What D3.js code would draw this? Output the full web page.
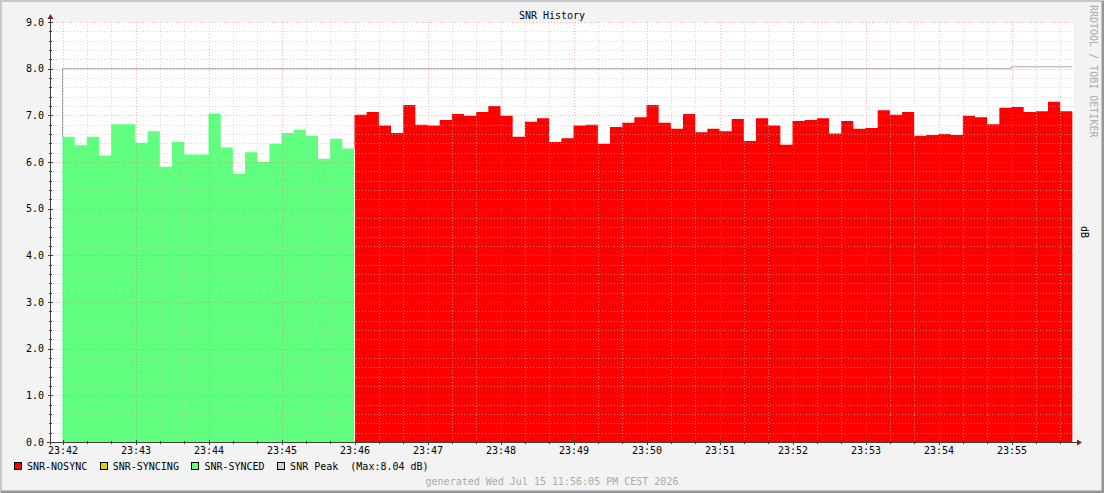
<!DOCTYPE html>
<html>
<head>
<meta charset="utf-8">
<script src="https://cdn.jsdelivr.net/npm/d3@7"></script>
<style>
  html, body { margin: 0; padding: 0; background: #fff; }
  svg { display: block; }
  text { font-family: "DejaVu Sans Mono", monospace; font-size: 10px; }
</style>
</head>
<body>
<svg id="chart" width="1104" height="493"></svg>
<script>
// 10 second samples starting at 23:42:00
const startTime = new Date(2026, 6, 15, 23, 42, 0);
const stepSeconds = 10;

const syncedValues = [6.54, 6.36, 6.54, 6.14, 6.81, 6.81, 6.41, 6.66, 5.90, 6.43, 6.16, 6.16,
  7.04, 6.31, 5.75, 6.21, 6.00, 6.39, 6.62, 6.69, 6.56, 6.07, 6.50, 6.29];

const nosyncValues = [7.01, 7.07, 6.78, 6.62, 7.22, 6.80, 6.78, 6.90, 7.03, 6.99, 7.07, 7.20,
  6.99, 6.54, 6.86, 6.94, 6.43, 6.51, 6.78, 6.80, 6.39, 6.75, 6.84, 6.96, 7.22, 6.84, 6.71,
  7.03, 6.64, 6.71, 6.66, 6.92, 6.45, 6.94, 6.78, 6.37, 6.88, 6.90, 6.94, 6.61, 6.88, 6.71,
  6.73, 7.11, 7.01, 7.07, 6.56, 6.58, 6.60, 6.58, 6.99, 6.96, 6.81, 7.16, 7.18, 7.07, 7.09,
  7.29, 7.09];

// peak line: value changes (HH:MM:SS, dB)
const peakTimes = ["23:42:00", "23:55:00"];
const peakValues = [8.00, 8.04];

const yMajorTicks = [0, 1, 2, 3, 4, 5, 6, 7, 8, 9];
const yMinorStep = 0.2;

const legendItems = [
  { name: 'SNR-NOSYNC', color: '#ff0000' },
  { name: 'SNR-SYNCING', color: '#e0d000' },
  { name: 'SNR-SYNCED', color: '#60ff80' },
  { name: 'SNR Peak', color: '#d0d0d0' }
];

const titleText = 'SNR History';
const yLabel = 'dB';
const watermark = 'RRDTOOL / TOBI OETIKER';
const footer = 'generated Wed Jul 15 11:56:05 PM CEST 2026';

// ---------------------------------------------------------------
const width = 1104, height = 493;
const plot = { left: 50, right: 1074, top: 22, bottom: 442 };
const pxPerSecond = 73 / 60;

const svg = d3.select('#chart');

const domainStart = new Date(+startTime - (62.5 - plot.left) / pxPerSecond * 1000);
const domainEnd = new Date(+domainStart + (plot.right - plot.left) / pxPerSecond * 1000);

const x = d3.scaleTime().domain([domainStart, domainEnd]).range([plot.left, plot.right]);
const y = d3.scaleLinear().domain([0, 9]).range([plot.bottom, plot.top]);

const timeAt = i => new Date(+startTime + i * stepSeconds * 1000);
const parseHMS = d3.timeParse('%Y-%m-%d %H:%M:%S');
const dayStr = d3.timeFormat('%Y-%m-%d')(startTime);

// step series with a closing point at the end of the last interval
function stepSeries(values, offset) {
  const pts = values.map((v, i) => ({ t: timeAt(offset + i), v }));
  pts.push({ t: timeAt(offset + values.length), v: values[values.length - 1] });
  return pts;
}
const syncedData = stepSeries(syncedValues, 0);
const nosyncData = stepSeries(nosyncValues, syncedValues.length);
const endTime = timeAt(syncedValues.length + nosyncValues.length);

// background and frame
svg.append('rect').attr('width', width).attr('height', height).attr('fill', '#f3f3f3');
svg.append('path').attr('d', `M0.5,${height}V0.5H${width}`).attr('fill', 'none')
  .attr('stroke', '#c8c8c8').attr('stroke-width', 3);
svg.append('path').attr('d', `M1,${height - 1}H${width - 1}V1`).attr('fill', 'none')
  .attr('stroke', '#969696').attr('stroke-width', 3);

// canvas
svg.append('rect')
  .attr('x', plot.left).attr('y', plot.top)
  .attr('width', plot.right - plot.left).attr('height', plot.bottom - plot.top)
  .attr('fill', '#ffffff');

// peak line (drawn under the areas)
const peakData = [{ t: startTime, v: syncedValues[0] }]
  .concat(peakTimes.map((s, i) => ({ t: parseHMS(dayStr + ' ' + s), v: peakValues[i] })));
peakData.push({ t: endTime, v: peakValues[peakValues.length - 1] });

svg.append('path')
  .datum(peakData)
  .attr('d', d3.line().x(d => x(d.t)).y(d => y(d.v)).curve(d3.curveStepAfter))
  .attr('fill', 'none')
  .attr('stroke', '#a8a8a8')
  .attr('stroke-width', 1);

// areas
const area = d3.area()
  .x(d => x(d.t))
  .y0(y(0))
  .y1(d => y(d.v))
  .curve(d3.curveStepAfter);

svg.append('path').datum(syncedData).attr('d', area).attr('fill', '#60ff80');
svg.append('path').datum(nosyncData).attr('d', area).attr('fill', '#ff0000');

// thin seam where the state changes
const seamX = x(nosyncData[0].t);
svg.append('line')
  .attr('x1', seamX).attr('x2', seamX)
  .attr('y1', y(0)).attr('y2', y(syncedValues[syncedValues.length - 1]))
  .attr('stroke', '#ffffff').attr('stroke-width', 0.8);

// grid (over the areas)
const grid = svg.append('g').attr('shape-rendering', 'crispEdges');
const crisp = v => Math.round(v) + 0.5;

const yMinor = d3.range(0, 9 + 1e-9, yMinorStep).filter(v => Math.abs(v - Math.round(v)) > 1e-6);
const xMinor = d3.timeSecond.every(20).range(domainStart, domainEnd).filter(d => d.getSeconds() !== 0);
const xMajor = d3.timeMinute.every(1).range(domainStart, domainEnd);

function hLines(vals, color) {
  grid.selectAll(null).data(vals).enter().append('line')
    .attr('x1', plot.left).attr('x2', plot.right)
    .attr('y1', d => crisp(y(d))).attr('y2', d => crisp(y(d)))
    .attr('stroke', color).attr('stroke-dasharray', '1,2');
}
function vLines(vals, color) {
  grid.selectAll(null).data(vals).enter().append('line')
    .attr('y1', plot.top).attr('y2', plot.bottom)
    .attr('x1', d => crisp(x(d))).attr('x2', d => crisp(x(d)))
    .attr('stroke', color).attr('stroke-dasharray', '1,2');
}
hLines(yMinor, 'rgba(192,192,192,0.6)');
vLines(xMinor, 'rgba(192,192,192,0.6)');
hLines(yMajorTicks, 'rgba(255,90,90,0.45)');
vLines(xMajor, 'rgba(255,90,90,0.45)');

// axes lines + ticks
const axisColor = '#404040';
const axes = svg.append('g').attr('shape-rendering', 'crispEdges');
axes.append('line')
  .attr('x1', plot.left - 3).attr('x2', plot.right + 4)
  .attr('y1', plot.bottom + 0.5).attr('y2', plot.bottom + 0.5)
  .attr('stroke', axisColor);
axes.append('line')
  .attr('x1', plot.left + 0.5).attr('x2', plot.left + 0.5)
  .attr('y1', plot.bottom + 3).attr('y2', plot.top - 4)
  .attr('stroke', axisColor);

axes.selectAll(null).data(yMinor).enter().append('line')
  .attr('x1', plot.left - 1).attr('x2', plot.left + 2)
  .attr('y1', d => crisp(y(d))).attr('y2', d => crisp(y(d))).attr('stroke', axisColor);
axes.selectAll(null).data(yMajorTicks).enter().append('line')
  .attr('x1', plot.left - 2).attr('x2', plot.left + 3)
  .attr('y1', d => crisp(y(d))).attr('y2', d => crisp(y(d))).attr('stroke', axisColor);
axes.selectAll(null).data(xMinor).enter().append('line')
  .attr('y1', plot.bottom - 1).attr('y2', plot.bottom + 2)
  .attr('x1', d => crisp(x(d))).attr('x2', d => crisp(x(d))).attr('stroke', axisColor);
axes.selectAll(null).data(xMajor).enter().append('line')
  .attr('y1', plot.bottom - 2).attr('y2', plot.bottom + 3)
  .attr('x1', d => crisp(x(d))).attr('x2', d => crisp(x(d))).attr('stroke', axisColor);

// arrows
const arrowColor = '#802020';
svg.append('path')
  .attr('d', `M${plot.right + 3},${plot.bottom - 2.5}L${plot.right + 8},${plot.bottom + 0.5}L${plot.right + 3},${plot.bottom + 3.5}Z`)
  .attr('fill', arrowColor);
svg.append('path')
  .attr('d', `M${plot.left - 2.5},${plot.top - 3}L${plot.left + 0.5},${plot.top - 8}L${plot.left + 3.5},${plot.top - 3}Z`)
  .attr('fill', arrowColor);

// tick labels via d3 axes
const yAxis = d3.axisLeft(y).tickValues(yMajorTicks).tickFormat(d3.format('.1f')).tickSize(0).tickPadding(6);
const yg = svg.append('g').attr('transform', `translate(${plot.left},0)`).call(yAxis);
yg.select('.domain').remove();
yg.selectAll('text').attr('font-family', '"DejaVu Sans Mono", monospace').attr('font-size', 10).attr('fill', '#000');

const xAxis = d3.axisBottom(x).tickValues(xMajor).tickFormat(d3.timeFormat('%H:%M')).tickSize(0).tickPadding(5);
const xg = svg.append('g').attr('transform', `translate(0,${plot.bottom})`).call(xAxis);
xg.select('.domain').remove();
xg.selectAll('text').attr('font-family', '"DejaVu Sans Mono", monospace').attr('font-size', 10).attr('fill', '#000');

// title, watermark, unit
svg.append('text').attr('x', width / 2).attr('y', 19).attr('text-anchor', 'middle').text(titleText);
svg.append('text')
  .attr('transform', 'translate(1089.5,5) rotate(90)')
  .attr('fill', '#aaaaaa')
  .text(watermark);
svg.append('text')
  .attr('transform', `translate(1080.5,${(plot.top + plot.bottom) / 2}) rotate(90)`)
  .attr('text-anchor', 'middle')
  .text(yLabel);

// legend
const legend = svg.append('g');
const charW = 6.02;
let lx = 14;
legendItems.forEach((item, i) => {
  legend.append('rect')
    .attr('x', lx + 0.5).attr('y', 462.5).attr('width', 7).attr('height', 7)
    .attr('fill', item.color).attr('stroke', '#000').attr('shape-rendering', 'crispEdges');
  let label = item.name;
  if (item.name === 'SNR Peak') label += `  (Max:${d3.max(peakValues).toFixed(2)} dB)`;
  legend.append('text').attr('x', lx + 13).attr('y', 470).attr('xml:space', 'preserve')
    .style('white-space', 'pre').text(label);
  lx += 13 + label.length * charW + 12.5;
});

// footer
svg.append('text').attr('x', width / 2).attr('y', 485).attr('text-anchor', 'middle')
  .attr('fill', '#aaaaaa').text(footer);
</script>
</body>
</html>
